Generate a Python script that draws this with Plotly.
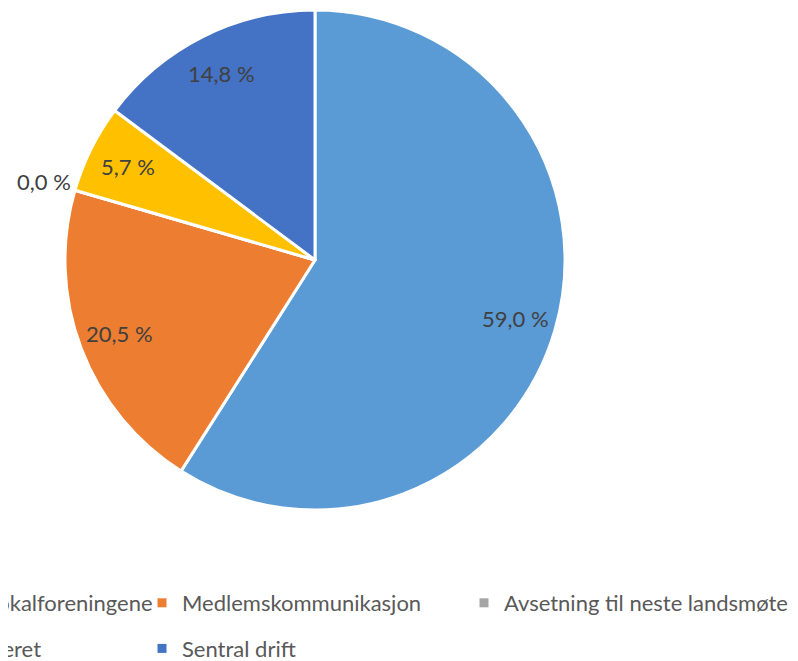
import math
import plotly.graph_objects as go

# ---- data ----
labels = ["Overføring til lokalforeningene", "Medlemskommunikasjon",
          "Avsetning til neste landsmøte", "Kunnskapssenteret", "Sentral drift"]
values = [59.0, 20.5, 0.0, 5.7, 14.8]
colors = ["#5B9BD5", "#ED7D31", "#A5A5A5", "#FFC000", "#4472C4"]
value_text = [f"{v:.1f} %".replace(".", ",") for v in values]
legend_column = [0, 1, 2, 0, 1]

# ---- layout constants (figure pixels; page body adds an 8px offset) ----
W, H = 790, 653
CX, CY, R = 307, 252, 250
FONT = "Lato"
LABEL_SIZE = 22
LEGEND_SIZE = 22

fig = go.Figure()
fig.add_trace(go.Pie(
    values=values, labels=labels, sort=False, direction="clockwise", rotation=0,
    marker=dict(colors=colors, line=dict(color="white", width=3)),
    textinfo="none", showlegend=False, hoverinfo="label+percent",
    domain=dict(x=[(CX - R) / W, (CX + R) / W], y=[(H - (CY + R)) / H, (H - (CY - R)) / H]),
))

# data labels along each slice bisector
total = sum(values)
cum = 0.0
annotations = []
for v, t in zip(values, value_text):
    mid = (cum + v / 2) / total
    cum += v
    theta = 2 * math.pi * mid
    inside = v / total >= 0.01
    rf = 0.835 if inside else 1.13
    x = CX + rf * R * math.sin(theta)
    y = CY - rf * R * math.cos(theta)
    annotations.append(dict(x=x / W, y=1 - y / H, xref="paper", yref="paper", text=t,
                            showarrow=False, xanchor="center", yanchor="middle",
                            font=dict(family=FONT, size=LABEL_SIZE, color="#404040")))

# legend entries (three legend columns)
legend_ids = ["legend", "legend2", "legend3"]
for lab, col, c in zip(labels, legend_column, colors):
    fig.add_trace(go.Scatter(x=[None], y=[None], mode="markers", name=lab,
                             marker=dict(symbol="square", size=9, color=c),
                             legend=legend_ids[col], legendgroup=lab, hoverinfo="skip"))

col_left = [-191, 134, 456]
leg_top = 574
common = dict(orientation="v", xanchor="left", yanchor="top", traceorder="grouped",
              tracegroupgap=14, itemwidth=30, bgcolor="rgba(0,0,0,0)",
              font=dict(family=FONT, size=LEGEND_SIZE, color="#595959"))
fig.update_layout(
    width=W, height=H,
    margin=dict(l=0, r=0, t=0, b=0, autoexpand=False),
    paper_bgcolor="white", plot_bgcolor="white",
    xaxis=dict(visible=False), yaxis=dict(visible=False),
    annotations=annotations,
    legend=dict(x=col_left[0] / W, y=1 - leg_top / H, **common),
    legend2=dict(x=col_left[1] / W, y=1 - leg_top / H, **common),
    legend3=dict(x=col_left[2] / W, y=1 - leg_top / H, **common),
)
fig.write_html("out.html")
